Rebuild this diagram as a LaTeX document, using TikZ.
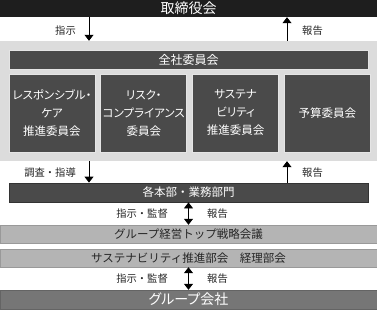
\documentclass[tikz,border=0pt]{standalone}
\usepackage{fontspec}
\newfontfamily\jpfont[RawFeature=+palt]{Noto Sans CJK JP}
\newfontfamily\jpfull{Noto Sans CJK JP}
\usetikzlibrary{positioning,arrows.meta}
\definecolor{boardgray}{HTML}{1E1E1E}
\definecolor{panelgray}{HTML}{DCDCDC}
\definecolor{boxgray}{HTML}{4A4A4A}
\definecolor{bargray}{HTML}{B4B4B4}
\definecolor{groupgray}{HTML}{767676}
\begin{document}
\begin{tikzpicture}[x=1pt,y=-1pt,
    dbox/.style={draw=white!90!black,line width=0.8pt,fill=boxgray,text=white,inner sep=0pt,align=center,
      font=\jpfont\fontsize{11.5}{18}\selectfont},
    lbar/.style={draw=bargray!85!black,fill=bargray,text=black!85,minimum width=377pt,minimum height=18pt,
      inner sep=0pt,font=\jpfull\fontsize{11.5}{14}\selectfont},
    lbl/.style={inner sep=0pt,text=black!85,font=\jpfull\fontsize{10.3}{12}\selectfont},
    arr/.style={-{Triangle[width=9pt,length=6pt]},line width=0.8pt},
    darr/.style={{Triangle[width=9pt,length=6pt]}-{Triangle[width=9pt,length=6pt]},line width=0.8pt}]
\useasboundingbox (0,0) rectangle (377,310);
\node[fill=boardgray,text=white,minimum width=377pt,minimum height=17pt,inner sep=0pt,
  font=\jpfont\fontsize{14}{16}\selectfont] (board) at (188.5,8.5) {取締役会};
\node[fill=panelgray,minimum width=377pt,minimum height=120pt,inner sep=0pt] (panel) at (188.5,101) {};
\node[dbox,minimum width=359pt,minimum height=19pt,font=\jpfont\fontsize{12}{14}\selectfont] (all) at (188.5,60) {全社委員会};
\node[dbox,minimum width=86pt,text width=86pt,minimum height=78pt] (c1) at (52,113) {レスポンシブル・\\ケア\\推進委員会};
\node[dbox,minimum width=86pt,text width=86pt,minimum height=78pt,right=5pt of c1] (c2) {リスク・\\コンプライアンス\\委員会};
\node[dbox,minimum width=86pt,text width=86pt,minimum height=78pt,right=5pt of c2] (c3) {サステナ\\ビリティ\\推進委員会};
\node[dbox,minimum width=86pt,text width=86pt,minimum height=78pt,right=5pt of c3] (c4) {予算委員会};
\node[dbox,draw=black!80,minimum width=359pt,minimum height=19pt,font=\jpfull\fontsize{11.5}{14}\selectfont] (dept) at (188.5,192.5) {各本部・業務部門};
\node[lbar] (strat) at (188.5,234) {グループ経営トップ戦略会議};
\node[lbar] (sust) at (188.5,258) {サステナビリティ推進部会\hspace{1em}経理部会};
\node[lbar,draw=groupgray!85!black,fill=groupgray,text=white,minimum height=19pt,
  font=\jpfont\fontsize{14}{16}\selectfont] (group) at (188.5,299.5) {グループ会社};
\draw[arr] (board.south -| 89,0) -- (panel.north -| 89,0);
\draw[arr] (panel.north -| 287,0) -- (board.south -| 287,0);
\draw[arr] (panel.south -| 89,0) -- (dept.north -| 89,0);
\draw[arr] (dept.north -| 287,0) -- (panel.south -| 287,0);
\draw[darr] (dept.south) -- (strat.north);
\draw[darr] (sust.south) -- (group.north);
\node[lbl,anchor=east] (instr) at (76,31) {指示};
\node[lbl,anchor=west] (rep1) at (302,31) {報告};
\node[lbl,anchor=east] (audit) at (76,173) {調査・指導};
\node[lbl,anchor=west] (rep2) at (302,173) {報告};
\node[lbl,anchor=east] (sup1) at (168,214) {指示・監督};
\node[lbl,anchor=west] (rep3) at (207,214) {報告};
\node[lbl,anchor=east] (sup2) at (168,279) {指示・監督};
\node[lbl,anchor=west] (rep4) at (207,279) {報告};
\end{tikzpicture}
\end{document}
